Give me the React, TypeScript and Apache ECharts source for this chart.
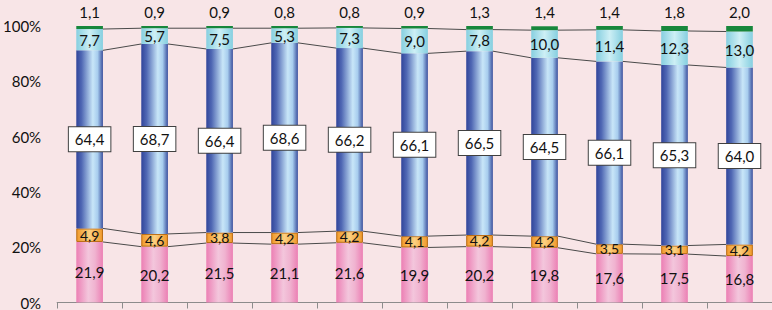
import React, { useEffect, useRef } from "react";
import * as echarts from "echarts";

const categories = ["1", "2", "3", "4", "5", "6", "7", "8", "9", "10", "11"];
const pinkValues = [21.9, 20.2, 21.5, 21.1, 21.6, 19.9, 20.2, 19.8, 17.6, 17.5, 16.8];
const orangeValues = [4.9, 4.6, 3.8, 4.2, 4.2, 4.1, 4.2, 4.2, 3.5, 3.1, 4.2];
const blueValues = [64.4, 68.7, 66.4, 68.6, 66.2, 66.1, 66.5, 64.5, 66.1, 65.3, 64.0];
const cyanValues = [7.7, 5.7, 7.5, 5.3, 7.3, 9.0, 7.8, 10.0, 11.4, 12.3, 13.0];
const greenValues = [1.1, 0.9, 0.9, 0.8, 0.8, 0.9, 1.3, 1.4, 1.4, 1.8, 2.0];
const yTicks = [0, 20, 40, 60, 80, 100];

const FONT = "Lato";
const BAR_FRAC = 0.41;

const fmt = (v: number) => v.toFixed(1).replace(".", ",");

function hGrad(stops: [number, string][]) {
  return {
    type: "linear",
    x: 0,
    y: 0,
    x2: 1,
    y2: 0,
    colorStops: stops.map(([offset, color]) => ({ offset, color })),
  };
}

export default function App() {
  const ref = useRef<HTMLDivElement>(null);

  useEffect(() => {
    document.body.style.margin = "0";
    if (!ref.current) return;
    const chart = echarts.init(ref.current, null, { renderer: "svg" });

    const series = [pinkValues, orangeValues, blueValues, cyanValues, greenValues];
    const bounds: number[][] = [];
    let acc = categories.map(() => 0);
    series.forEach((s) => {
      acc = acc.map((a, i) => a + s[i]);
      bounds.push(acc.slice());
    });
    const lineData: number[][] = [];
    bounds.slice(0, 4).forEach((b) => {
      for (let i = 0; i < categories.length - 1; i++) {
        lineData.push([i, b[i], b[i + 1]]);
      }
    });

    const baseLabel = {
      show: true,
      color: "#111111",
      fontFamily: FONT,
      fontSize: 15,
      formatter: (p: any) => fmt(p.value),
    };

    chart.setOption({
      animation: false,
      backgroundColor: "#f8e5e7",
      grid: { left: 50, right: 0, top: 26, bottom: 5.5, containLabel: false },
      xAxis: {
        type: "category",
        data: categories,
        boundaryGap: true,
        axisLine: { show: true, lineStyle: { color: "#8c8c8c", width: 1 } },
        axisTick: { show: true, length: 6, lineStyle: { color: "#8c8c8c" } },
        axisLabel: { show: false },
        splitLine: { show: false },
      },
      yAxis: {
        type: "value",
        min: 0,
        max: 100,
        interval: 20,
        axisLine: { show: false },
        axisTick: { show: false },
        splitLine: { show: false },
        axisLabel: {
          color: "#111111",
          fontFamily: FONT,
          fontSize: 15,
          margin: 16,
          formatter: (v: number) => (yTicks.includes(v) ? v + "%" : ""),
        },
      },
      series: [
        {
          type: "bar",
          stack: "t",
          barWidth: "41%",
          data: pinkValues,
          itemStyle: {
            color: hGrad([
              [0, "#ec7fb4"],
              [0.45, "#f3c6dc"],
              [0.7, "#f0b3d0"],
              [1, "#ec7fb4"],
            ]),
          },
          label: { ...baseLabel, position: "inside" },
        },
        {
          type: "bar",
          stack: "t",
          data: orangeValues,
          itemStyle: {
            color: hGrad([
              [0, "#f19a2c"],
              [0.5, "#fcd080"],
              [1, "#f19a2c"],
            ]),
            borderColor: "#b86a10",
            borderWidth: 1,
          },
          label: { ...baseLabel, position: "inside", fontSize: 14 },
        },
        {
          type: "bar",
          stack: "t",
          data: blueValues,
          itemStyle: {
            color: hGrad([
              [0, "#30449a"],
              [0.2, "#5068b4"],
              [0.62, "#c8e6f8"],
              [0.8, "#a8cdee"],
              [1, "#3b509e"],
            ]),
          },
          label: {
            ...baseLabel,
            position: "inside",
            backgroundColor: "#ffffff",
            borderColor: "#404040",
            borderWidth: 1,
            padding: [5, 6, 4, 6],
          },
        },
        {
          type: "bar",
          stack: "t",
          data: cyanValues,
          itemStyle: {
            color: hGrad([
              [0, "#86cfe0"],
              [0.5, "#cdeff5"],
              [1, "#86cfe0"],
            ]),
          },
          label: { ...baseLabel, position: "inside" },
        },
        {
          type: "bar",
          stack: "t",
          data: greenValues,
          itemStyle: { color: "#17873c" },
          label: { ...baseLabel, position: "top", distance: 7 },
        },
        {
          type: "custom",
          data: lineData,
          encode: { x: 0, y: [1, 2] },
          z: 10,
          silent: true,
          renderItem: (params: any, api: any) => {
            const i = api.value(0);
            const a = api.value(1);
            const b = api.value(2);
            const p0 = api.coord([i, a]);
            const p1 = api.coord([i + 1, b]);
            const half = (api.size([1, 0])[0] * BAR_FRAC) / 2;
            return {
              type: "line",
              shape: { x1: p0[0] + half, y1: p0[1], x2: p1[0] - half, y2: p1[1] },
              style: { stroke: "#4a4a4a", lineWidth: 1 },
            };
          },
        },
      ],
    });

    return () => chart.dispose();
  }, []);

  return (
    <div
      ref={ref}
      style={{ position: "fixed", left: 0, top: 0, width: 772, height: 310 }}
    />
  );
}
